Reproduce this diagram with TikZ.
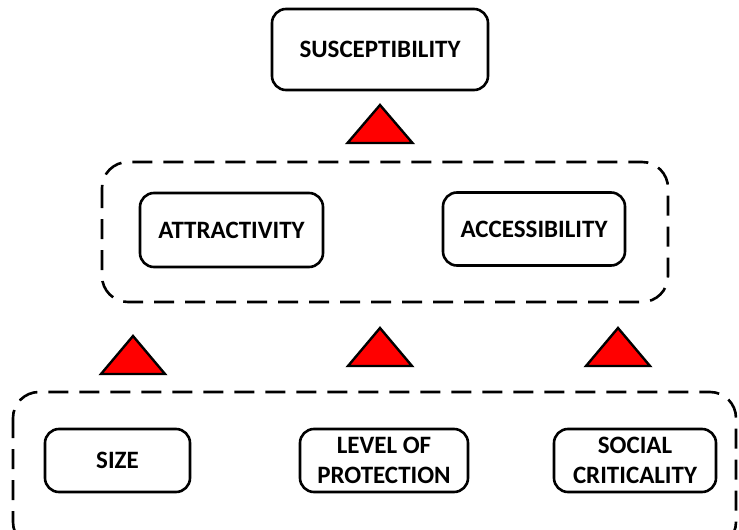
\documentclass[tikz,border=0pt]{standalone}
\usepackage{fontspec}
\setmainfont{Carlito}
\begin{document}
\begin{tikzpicture}[x=1pt,y=-1pt,
  box/.style={draw=black,line width=2.6pt,rounded corners=14pt,fill=white,
    font=\fontsize{25}{30}\selectfont\bfseries,align=center,inner sep=0pt},
  group/.style={draw=black,line width=2.6pt,rounded corners=26pt,
    dash pattern=on 20pt off 11pt},
  tri/.style={draw=black,line width=2.4pt,fill=red,line join=miter}]
\clip (0,0) rectangle (739,530);
\fill[white] (0,0) rectangle (739,530);
% groups
\draw[group] (102,162) rectangle (668,302);
\draw[group] (13,392) rectangle (736,548);
% boxes
\node[box,minimum width=216pt,minimum height=81pt] (sus) at (380,49.5) {SUSCEPTIBILITY};
\node[box,minimum width=183pt,minimum height=74pt] (att) at (231.5,230) {ATTRACTIVITY};
\node[box,minimum width=182pt,minimum height=73pt] (acc) at (534,229) {ACCESSIBILITY};
\node[box,minimum width=145pt,minimum height=63pt] (size) at (117.5,460.5) {SIZE};
\node[box,minimum width=168pt,minimum height=63pt] (lev) at (384,460.5) {LEVEL OF\\PROTECTION};
\node[box,minimum width=162pt,minimum height=63pt] (soc) at (635,460.5) {SOCIAL\\CRITICALITY};
% triangles
\draw[tri] (380,105) -- (412.5,143) -- (347.5,143) -- cycle;
\draw[tri] (133,336) -- (165,374) -- (101,374) -- cycle;
\draw[tri] (380,328) -- (412,366) -- (348,366) -- cycle;
\draw[tri] (618,328) -- (650,366) -- (586,366) -- cycle;
\end{tikzpicture}
\end{document}
